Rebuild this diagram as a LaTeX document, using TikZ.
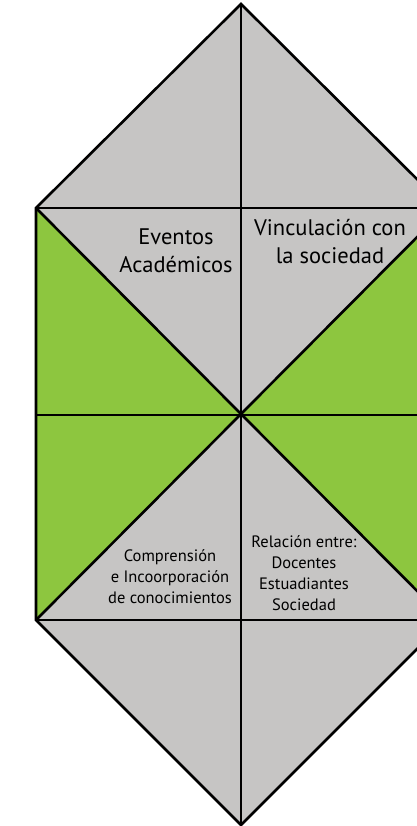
\documentclass[tikz,border=0pt]{standalone}
\usepackage{fontspec}
\setmainfont{PT Sans}
\definecolor{hojagris}{HTML}{C6C5C4}
\definecolor{hojaverde}{HTML}{8DC63F}
\tikzset{
	borde/.style={black,line width=2.6pt},
	textogrande/.style={anchor=center,align=center,inner sep=0pt,
		font=\fontsize{22.5}{28}\selectfont},
	textochico/.style={anchor=center,align=center,inner sep=0pt,
		font=\fontsize{16.5}{21}\selectfont}
}
\begin{document}
\begin{tikzpicture}[x=1pt,y=-1pt]
	\useasboundingbox (0,0) rectangle (416,826);
	\coordinate (c) at (241,415);
	\coordinate (n) at (241,4);
	\coordinate (s) at (241,825);
	\coordinate (nw) at (36,208);
	\coordinate (ne) at (446,208);
	\coordinate (sw) at (36,620);
	\coordinate (se) at (446,620);
	\coordinate (w) at (36,415);
	\coordinate (e) at (446,415);
	\fill[hojagris] (nw) -- (n) -- (ne) -- (se) -- (s) -- (sw) -- cycle;
	\fill[hojaverde] (nw) -- (c) -- (sw) -- cycle;
	\fill[hojaverde] (ne) -- (c) -- (se) -- cycle;
	\draw[borde] (nw) -- (n) -- (ne) -- (se) -- (s) -- (sw) -- cycle;
	\draw[borde] (n) -- (s);
	\draw[borde] (nw) -- (ne);
	\draw[borde] (w) -- (e);
	\draw[borde] (sw) -- (se);
	\draw[borde] (nw) -- (se);
	\draw[borde] (ne) -- (sw);
	\node[textogrande] (eventos) at (176,251) {Eventos\\Académicos};
	\node[textogrande] (vinculo) at (330,242) {Vinculación con\\la sociedad};
	\node[textochico] (comprension) at (170,577)
		{Comprensión\\e Incoorporación\\de conocimientos};
	\node[textochico] (relacion) at (304,573)
		{Relación entre:\\Docentes\\Estuadiantes\\Sociedad};
\end{tikzpicture}
\end{document}
